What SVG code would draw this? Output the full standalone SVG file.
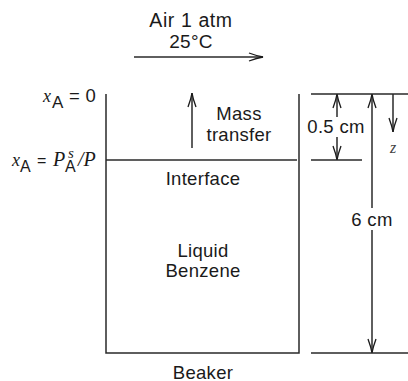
<svg xmlns="http://www.w3.org/2000/svg" width="408" height="381" viewBox="0 0 408 381">
<style>
text{font-family:"Liberation Sans",Arial,sans-serif;font-size:18.5px;letter-spacing:.3px;fill:#1a1a1a;text-anchor:middle}
.i{font-family:"Liberation Serif","Times New Roman",serif;font-style:italic;letter-spacing:0}
text.s{text-anchor:start}
.l{stroke:#2a2a2a;stroke-width:1.5;fill:none}
</style>
<defs>
<marker id="a" markerUnits="userSpaceOnUse" markerWidth="16" markerHeight="12" refX="15" refY="5" orient="auto"><path d="M1 1 Q9 4 15 5 Q9 6 1 9" fill="none" stroke="#1a1a1a" stroke-width="1.3"/></marker>
</defs>
<g id="connectors">
<path class="l" d="M134 57H263" marker-end="url(#a)"/>
<path class="l" d="M192 148V93" marker-end="url(#a)"/>
<path class="l" d="M337 117V94" marker-end="url(#a)"/>
<path class="l" d="M337 137V160" marker-end="url(#a)"/>
<path class="l" d="M372 208V94" marker-end="url(#a)"/>
<path class="l" d="M372 230V353" marker-end="url(#a)"/>
<path class="l" d="M393 94V132" marker-end="url(#a)"/>
</g>
<g id="beaker">
<path class="l" d="M106 94V353H299V94"/>
<text x="203" y="378.500">Beaker</text>
</g>
<g id="interface">
<path class="l" d="M106 160H297"/>
<text x="203" y="185">Interface</text>
</g>
<g id="dimension-lines">
<path class="l" d="M311 94H408M311 160H362M311 353H408"/>
</g>
<g id="air">
<text x="191" y="27" style="font-size:19.5px;letter-spacing:.6px">Air 1 atm</text>
<text x="191" y="48" style="font-size:19px">25°C</text>
</g>
<g id="mass-transfer">
<text x="239" y="120">Mass</text>
<text x="239" y="141">transfer</text>
</g>
<g id="liquid">
<text x="203" y="257">Liquid</text>
<text x="203" y="277">Benzene</text>
</g>
<g id="labels">
<text x="336" y="133">0.5 cm</text>
<text x="372" y="226">6 cm</text>
<text class="i" x="393" y="153" style="font-size:16px;fill:#444">z</text>
<text class="s" x="43" y="102"><tspan class="i" style="font-size:18px">x</tspan><tspan x="52" y="108" style="font-size:17px">A</tspan><tspan x="69" y="102">= 0</tspan></text>
<text class="s" x="12" y="166"><tspan class="i" style="font-size:18px">x</tspan><tspan x="20" y="172" style="font-size:16px">A</tspan><tspan x="37" y="166" style="font-size:16px">=</tspan><tspan class="i" x="53" y="166" style="font-size:20px">P</tspan><tspan x="65" y="172" style="font-size:16px">A</tspan><tspan class="i" x="68" y="158" style="font-size:15px">s</tspan><tspan class="i" x="78" y="166" style="font-size:20px">/P</tspan></text>
</g>
</svg>
